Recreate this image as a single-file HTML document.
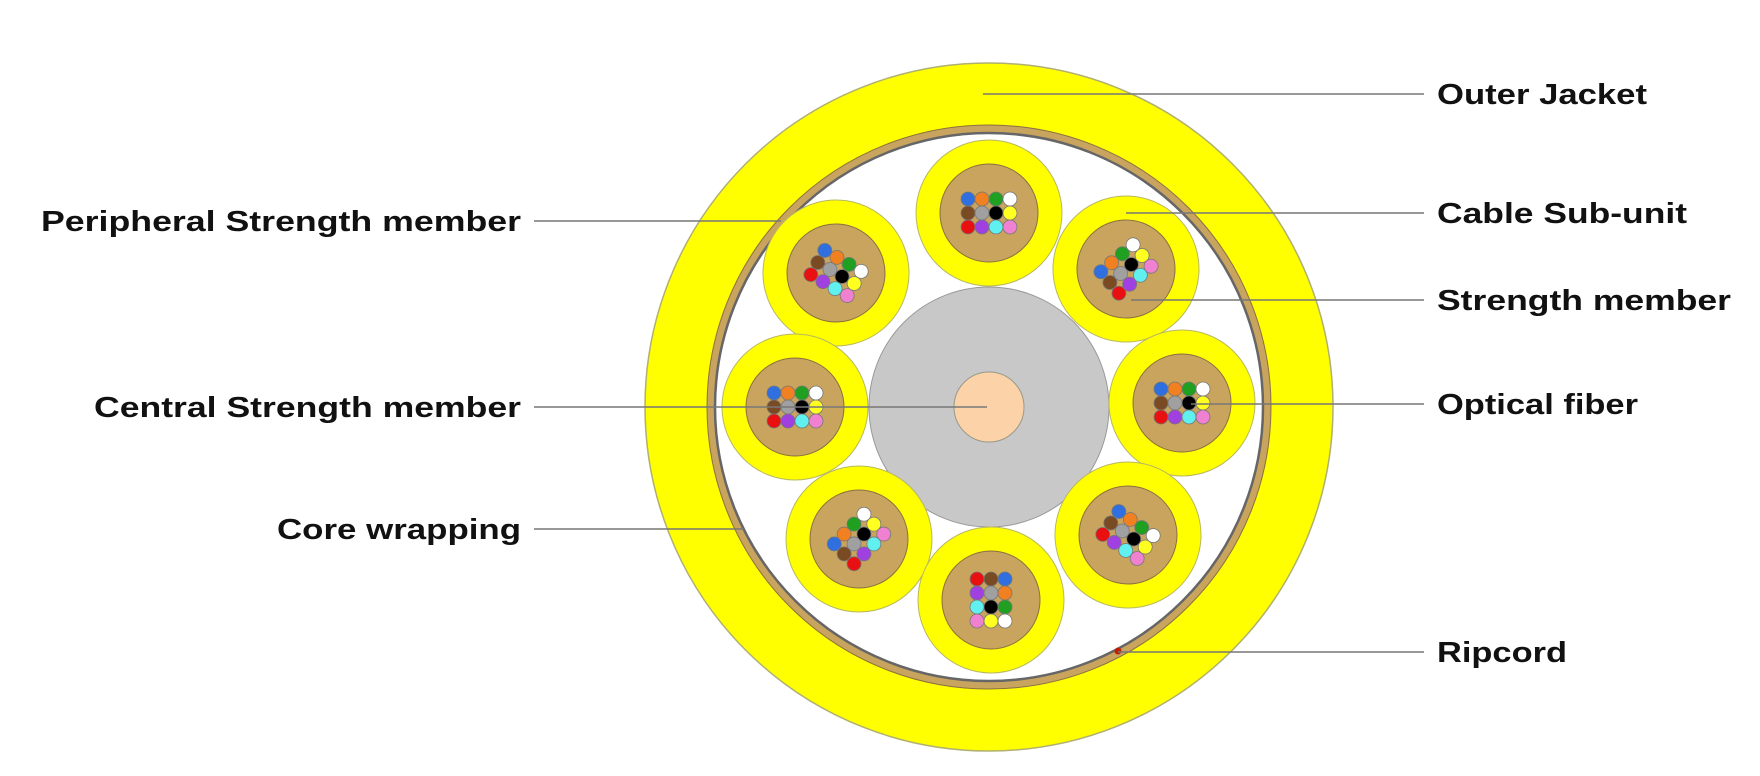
<!DOCTYPE html>
<html><head><meta charset="utf-8"><style>
html,body{margin:0;padding:0;background:#fff;}
svg{display:block}
text{font-family:"Liberation Sans","DejaVu Sans",sans-serif;font-weight:bold;font-size:29px;fill:#111}
</style></head><body>
<svg width="1760" height="776" viewBox="0 0 1760 776" xmlns="http://www.w3.org/2000/svg">
<defs>
<g id="fib" stroke="#777" stroke-width="0.8">
<circle cx="-21" cy="-14" r="7" fill="#2f6fe0"/><circle cx="-7" cy="-14" r="7" fill="#f08020"/><circle cx="7" cy="-14" r="7" fill="#20a020"/><circle cx="21" cy="-14" r="7" fill="#ffffff"/>
<circle cx="-21" cy="0" r="7" fill="#7a4a22"/><circle cx="-7" cy="0" r="7" fill="#a0a0a0"/><circle cx="7" cy="0" r="7" fill="#000"/><circle cx="21" cy="0" r="7" fill="#ffff20"/>
<circle cx="-21" cy="14" r="7" fill="#e81010"/><circle cx="-7" cy="14" r="7" fill="#a040e0"/><circle cx="7" cy="14" r="7" fill="#60f0f0"/><circle cx="21" cy="14" r="7" fill="#f080d0"/>
</g>
<g id="sub">
<circle r="73" fill="#ffff00" stroke="#b8b860" stroke-width="1"/>
<circle r="49" fill="#c9a45e" stroke="#8a7040" stroke-width="1"/>
<use href="#fib"/>
</g>
</defs>
<g transform="translate(-5,-1)">
<circle cx="994" cy="408" r="344" fill="#ffff00" stroke="#b0b070" stroke-width="1.5"/>
<circle cx="994" cy="408" r="282" fill="#c9a45e" stroke="#8a7040" stroke-width="1"/>
<circle cx="994" cy="408" r="274" fill="#fff" stroke="#666" stroke-width="2.5"/>
<circle cx="994" cy="408" r="120" fill="#c8c8c8" stroke="#999" stroke-width="1"/>
<circle cx="994" cy="408" r="35" fill="#fcd2a8" stroke="#998" stroke-width="1"/>
<use href="#sub" transform="translate(994,214)"/>
<use href="#sub" transform="translate(841,274) rotate(30)"/>
<use href="#sub" transform="translate(1131,270) rotate(-40)"/>
<use href="#sub" transform="translate(800,408)"/>
<use href="#sub" transform="translate(1187,404)"/>
<use href="#sub" transform="translate(864,540) rotate(-45)"/>
<use href="#sub" transform="translate(1133,536) rotate(35)"/>
<use href="#sub" transform="translate(996,601) rotate(90)"/>
<circle cx="1123" cy="652" r="3.5" fill="#c02000"/>
</g>
<g stroke="#777" stroke-width="1.6">
<line x1="983" y1="94" x2="1424" y2="94"/>
<line x1="1126" y1="213" x2="1424" y2="213"/>
<line x1="1131" y1="300" x2="1424" y2="300"/>
<line x1="1191" y1="404" x2="1424" y2="404"/>
<line x1="1118" y1="652" x2="1424" y2="652"/>
<line x1="534" y1="221" x2="781" y2="221"/>
<line x1="534" y1="407" x2="987" y2="407"/>
<line x1="534" y1="529" x2="744" y2="529"/>
</g>
<text x="1437" y="104" textLength="210" lengthAdjust="spacingAndGlyphs">Outer Jacket</text>
<text x="1437" y="223" textLength="250" lengthAdjust="spacingAndGlyphs">Cable Sub-unit</text>
<text x="1437" y="310" textLength="294" lengthAdjust="spacingAndGlyphs">Strength member</text>
<text x="1437" y="414" textLength="201" lengthAdjust="spacingAndGlyphs">Optical fiber</text>
<text x="1437" y="662" textLength="130" lengthAdjust="spacingAndGlyphs">Ripcord</text>
<text x="41" y="231" textLength="480" lengthAdjust="spacingAndGlyphs">Peripheral Strength member</text>
<text x="94" y="417" textLength="427" lengthAdjust="spacingAndGlyphs">Central Strength member</text>
<text x="277" y="539" textLength="244" lengthAdjust="spacingAndGlyphs">Core wrapping</text>
</svg>
</body></html>
